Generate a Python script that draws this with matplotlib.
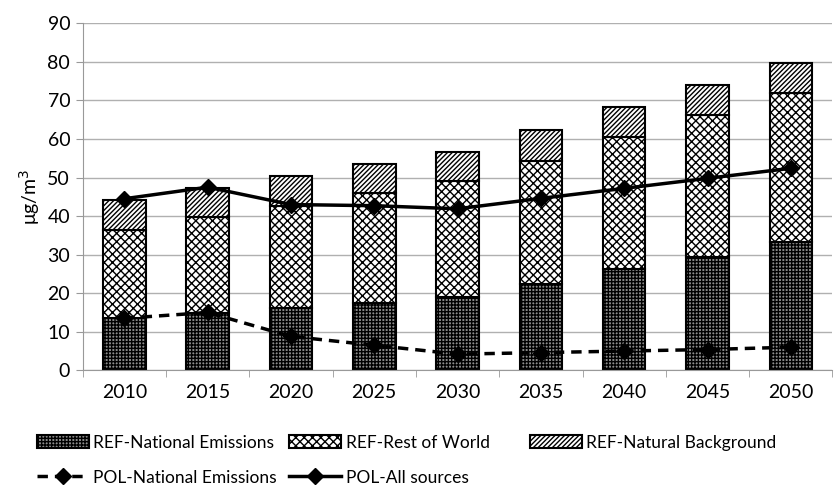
import matplotlib.pyplot as plt
import numpy as np

plt.rcParams['font.family'] = ['Lato', 'DejaVu Sans']
plt.rcParams['hatch.linewidth'] = 1.0

years = ['2010', '2015', '2020', '2025', '2030', '2035', '2040', '2045', '2050']
ref_national = [13.5, 14.8, 16.1, 17.5, 19.0, 22.3, 26.2, 29.5, 33.2]
ref_rest_top = [36.5, 39.7, 42.6, 46.0, 49.0, 54.4, 60.4, 66.1, 71.9]
ref_total = [44.3, 47.4, 50.5, 53.5, 56.6, 62.4, 68.2, 74.0, 79.6]
pol_national = [13.5, 15.0, 8.8, 6.5, 4.2, 4.6, 5.0, 5.4, 6.0]
pol_all = [44.5, 47.5, 43.0, 42.7, 41.9, 44.6, 47.2, 49.8, 52.4]

ref_rest = [t - n for t, n in zip(ref_rest_top, ref_national)]
ref_natural = [t - r for t, r in zip(ref_total, ref_rest_top)]

fig = plt.figure(figsize=(8.35, 4.86), dpi=100)
ax = fig.add_axes([0.099, 0.238, 0.898, 0.714])

x = np.arange(len(years))
w = 0.51
b1 = ax.bar(x, ref_national, w, color='#8c8c8c', edgecolor='black', hatch='+++++', lw=1.5, zorder=2)
b2 = ax.bar(x, ref_rest, w, bottom=ref_national, color='white', edgecolor='black', hatch='xxxx', lw=1.5, zorder=2)
b3 = ax.bar(x, ref_natural, w, bottom=ref_rest_top, color='white', edgecolor='black', hatch='///////', lw=1.5, zorder=2)
l1, = ax.plot(x, pol_national, ls=(0, (3, 2)), color='black', lw=2.5, marker='D', ms=8, zorder=3)
l2, = ax.plot(x, pol_all, color='black', lw=2.5, marker='D', ms=8, zorder=3)

ax.set_xlim(-0.5, len(years) - 0.5)
ax.set_ylim(0, 90)
ax.set_yticks(range(0, 91, 10))
ax.set_xticks(x)
ax.set_xticklabels(years)
ax.set_xticks(np.arange(-0.5, len(years), 1), minor=True)
ax.tick_params(axis='x', which='major', length=0, pad=10, labelsize=14)
ax.tick_params(axis='x', which='minor', length=5, color='#999999')
ax.tick_params(axis='y', length=5, color='#999999', labelsize=14, pad=4)
ax.grid(axis='y', color='#b0b0b0', lw=1, zorder=0)
ax.set_axisbelow(True)
for s in ['top', 'right']:
    ax.spines[s].set_visible(False)
ax.spines['left'].set_color('#999999')
ax.spines['bottom'].set_color('#999999')
ax.set_ylabel('μg/m$^3$', fontsize=14, labelpad=4)

kw = dict(frameon=False, fontsize=12.5, handlelength=3.0, handleheight=0.8, handletextpad=0.25,
          labelspacing=1.1, loc='upper left', borderaxespad=0)
fig.legend([b1, l1], ['REF-National Emissions', 'POL-National Emissions'],
           bbox_to_anchor=(0.036, 0.12), **kw)
fig.legend([b2, l2], ['REF-Rest of World', 'POL-All sources'],
           bbox_to_anchor=(0.338, 0.12), **kw)
fig.legend([b3], ['REF-Natural Background'],
           bbox_to_anchor=(0.626, 0.12), **kw)

fig.savefig('out.png', dpi=100)
